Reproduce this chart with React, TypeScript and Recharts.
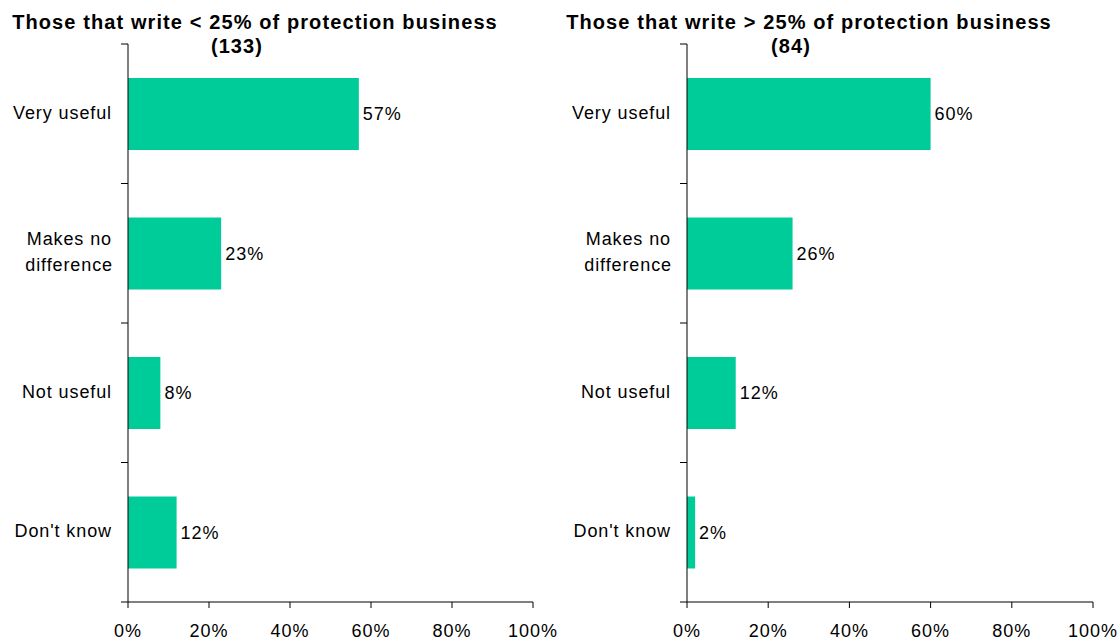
import { BarChart, Bar, XAxis, YAxis, LabelList } from "recharts";

// ================================================================
// Usefulness by share of protection business
// ================================================================

const categories = ["Very useful", "Makes no difference", "Not useful", "Don't know"];
const lowShareValues = [57, 23, 8, 12];
const highShareValues = [60, 26, 12, 2];
const xTicks = [0, 20, 40, 60, 80, 100];

const lowShareTitle = "Those that write < 25% of protection business";
const lowShareCount = "(133)";
const highShareTitle = "Those that write > 25% of protection business";
const highShareCount = "(84)";

const FONT = "'Liberation Sans', Arial, Helvetica, sans-serif";
const BAR_COLOR = "#00CC99";
const TOP = 44;
const PLOT_BOTTOM = 602;
const BAND = (PLOT_BOTTOM - TOP) / categories.length;

const buildData = (values: number[]) =>
  categories.map((name, i) => ({ name, value: values[i] }));

function makeYTick(axisX: number, count: number) {
  return (props: any) => {
    const { y, payload, index } = props;
    const label: string = payload.value;
    let lines = [label];
    if (label.length > 12) {
      const cut = label.lastIndexOf(" ");
      lines = [label.slice(0, cut), label.slice(cut + 1)];
    }
    const textX = axisX - 16;
    return (
      <g>
        <line x1={axisX - 7} x2={axisX} y1={y - BAND / 2} y2={y - BAND / 2} stroke="#000" />
        {index === count - 1 && (
          <line x1={axisX - 7} x2={axisX} y1={y + BAND / 2} y2={y + BAND / 2} stroke="#000" />
        )}
        {lines.length === 1 ? (
          <text x={textX} y={y + 5} textAnchor="end" fontSize={18} fill="#000" style={{ letterSpacing: 0.9 }}>
            {lines[0]}
          </text>
        ) : (
          <text textAnchor="end" fontSize={18} fill="#000" style={{ letterSpacing: 0.9 }}>
            <tspan x={textX} y={y - 8}>{lines[0]}</tspan>
            <tspan x={textX + 1} y={y + 18}>{lines[1]}</tspan>
          </text>
        )}
      </g>
    );
  };
}

function Panel({
  values,
  yAxisWidth,
}: {
  values: number[];
  yAxisWidth: number;
}) {
  const data = buildData(values);
  return (
    <BarChart
      width={560}
      height={642}
      data={data}
      layout="vertical"
      margin={{ top: TOP, right: 27, bottom: 0, left: 0 }}
      style={{ fontFamily: FONT }}
    >
      <XAxis
        type="number"
        domain={[0, 100]}
        ticks={xTicks}
        tickFormatter={(v: number) => `${v}%`}
        height={40}
        tickSize={6}
        tickMargin={16}
        axisLine={{ stroke: "#000" }}
        tickLine={{ stroke: "#000" }}
        tick={{ fill: "#000", fontSize: 18, style: { letterSpacing: 1 } }}
        interval={0}
      />
      <YAxis
        type="category"
        dataKey="name"
        width={yAxisWidth}
        axisLine={{ stroke: "#000" }}
        tickLine={false}
        tick={makeYTick(yAxisWidth, categories.length)}
        interval={0}
      />
      <Bar dataKey="value" fill={BAR_COLOR} barSize={72} isAnimationActive={false}>
        <LabelList
          dataKey="value"
          position="right"
          offset={4}
          formatter={(v: number) => `${v}%`}
          style={{ fontSize: 18, fill: "#000", letterSpacing: 1 }}
        />
      </Bar>
    </BarChart>
  );
}

function Title({ line1, line2, center }: { line1: string; line2: string; center: number }) {
  const w = 560;
  return (
    <div
      style={{
        position: "absolute",
        left: center - w / 2,
        top: 10,
        width: w,
        textAlign: "center",
        fontFamily: FONT,
        fontWeight: "bold",
        fontSize: 20,
        lineHeight: "24px",
        letterSpacing: 1.1,
        color: "#000",
        whiteSpace: "nowrap",
      }}
    >
      <div>{line1}</div>
      <div style={{ paddingRight: 36 }}>{line2}</div>
    </div>
  );
}

export default function App() {
  return (
    <div
      style={{
        position: "absolute",
        left: 0,
        top: 0,
        width: 1120,
        height: 642,
        background: "#fff",
        overflow: "hidden",
      }}
    >
      <div style={{ position: "absolute", left: 0, top: 0 }}>
        <Panel values={lowShareValues} yAxisWidth={128} />
      </div>
      <div style={{ position: "absolute", left: 560, top: 0 }}>
        <Panel values={highShareValues} yAxisWidth={127} />
      </div>
      <Title line1={lowShareTitle} line2={lowShareCount} center={255} />
      <Title line1={highShareTitle} line2={highShareCount} center={809} />
    </div>
  );
}
